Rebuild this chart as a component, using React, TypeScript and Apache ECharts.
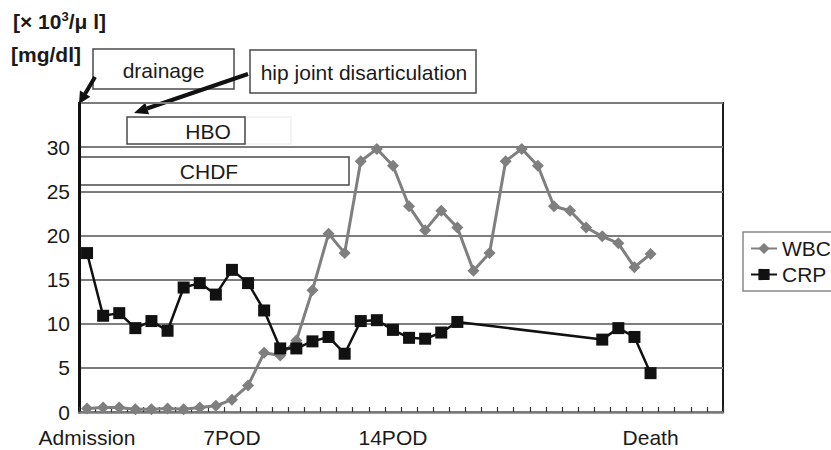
import React, { useEffect, useRef } from "react";
import * as echarts from "echarts";

const categories = [
  "Admission", "", "", "", "", "", "", "", "", "7POD",
  "", "", "", "", "", "", "", "", "", "14POD",
  "", "", "", "", "", "", "", "", "", "",
  "", "", "", "", "", "Death", "", "", "", "",
];

const wbc = [
  0.4, 0.5, 0.5, 0.3, 0.3, 0.4, 0.3, 0.5, 0.7, 1.4,
  3.0, 6.7, 6.4, 8.1, 13.8, 20.2, 18.0, 28.4, 29.8, 27.9,
  23.3, 20.6, 22.8, 20.9, 16.0, 18.0, 28.4, 29.8, 27.9, 23.3,
  22.8, 20.9, 19.9, 19.1, 16.4, 17.9, null, null, null, null,
];

const crp = [
  18.0, 10.9, 11.2, 9.5, 10.3, 9.2, 14.1, 14.6, 13.3, 16.1,
  14.6, 11.5, 7.2, 7.2, 8.0, 8.5, 6.6, 10.3, 10.4, 9.3,
  8.4, 8.3, 9.0, 10.2, null, null, null, null, null, null,
  null, null, 8.2, 9.5, 8.5, 4.4, null, null, null, null,
];

const seriesNames = ["WBC", "CRP"];
const yMax = 35;
const yStep = 5;

const FONT = "'Liberation Sans', Arial, sans-serif";

export default function App() {
  const ref = useRef<HTMLDivElement>(null);

  useEffect(() => {
    if (!ref.current) return;
    const chart = echarts.init(ref.current, undefined, { renderer: "svg" });

    const boxStyle = { fill: "transparent", stroke: "#4a4a4a", lineWidth: 1.5 };
    const txt = (x: number, y: number, s: string) => ({
      type: "text",
      x,
      y,
      style: {
        text: s,
        fontSize: 21,
        fontFamily: FONT,
        fill: "#1a1a1a",
        textAlign: "center",
        textVerticalAlign: "middle",
      },
    });

    chart.setOption({
      animation: false,
      backgroundColor: "#ffffff",
      textStyle: { fontFamily: FONT },
      grid: {
        left: 79,
        right: 108,
        top: 103,
        bottom: 38,
        show: true,
        borderColor: "#1a1a1a",
        borderWidth: 2,
        backgroundColor: "transparent",
      },
      legend: {
        orient: "vertical",
        left: 743,
        top: 232,
        data: seriesNames,
        borderColor: "#888",
        borderWidth: 1.5,
        padding: [5, 12, 5, 7],
        itemWidth: 26,
        itemHeight: 14,
        itemGap: 3,
        textStyle: { fontSize: 21, color: "#1a1a1a", fontFamily: FONT, lineHeight: 23 },
      },
      xAxis: {
        type: "category",
        data: categories,
        boundaryGap: true,
        axisLine: { lineStyle: { color: "#7a7a7a", width: 2.5 } },
        axisTick: {
          show: true,
          inside: true,
          length: 5,
          interval: 0,
          lineStyle: { color: "#333", width: 1.2 },
        },
        axisLabel: {
          interval: 0,
          fontSize: 21,
          color: "#1a1a1a",
          margin: 15,
          fontFamily: FONT,
        },
        splitLine: { show: false },
      },
      yAxis: {
        type: "value",
        min: 0,
        max: yMax,
        interval: yStep,
        axisLine: { show: true, lineStyle: { color: "#111", width: 3 } },
        axisTick: { show: false },
        axisLabel: {
          fontSize: 21,
          color: "#1a1a1a",
          margin: 9,
          fontFamily: FONT,
          formatter: (v: number) => (v === yMax ? "" : String(v)),
        },
        splitLine: { lineStyle: { color: "#7c7c7c", width: 2 } },
      },
      series: [
        {
          name: seriesNames[0],
          type: "line",
          data: wbc,
          symbol: "diamond",
          symbolSize: 12,
          itemStyle: { color: "#7f7f7f" },
          lineStyle: { color: "#7f7f7f", width: 3 },
          z: 3,
        },
        {
          name: seriesNames[1],
          type: "line",
          data: crp,
          connectNulls: true,
          symbol: "rect",
          symbolSize: 12,
          itemStyle: { color: "#111" },
          lineStyle: { color: "#111", width: 2.5 },
          z: 4,
        },
      ],
      graphic: [
        {
          type: "text",
          left: 13,
          top: 10,
          style: {
            rich: {
              a: { fontSize: 21, fontWeight: "bold", fontFamily: FONT, fill: "#1a1a1a" },
              sup: { fontSize: 13, fontWeight: "bold", fontFamily: FONT, fill: "#1a1a1a", verticalAlign: "top", padding: [0, 0, 9, 0] },
            },
            text: "{a|[× 10}{sup|3}{a|/μ l]}",
          },
        },
        {
          type: "text",
          left: 11,
          top: 44,
          style: { text: "[mg/dl]", fontSize: 21, fontWeight: "bold", fontFamily: FONT, fill: "#1a1a1a" },
        },
        { type: "rect", shape: { x: 93, y: 49, width: 141, height: 40 }, style: boxStyle },
        txt(163.5, 70, "drainage"),
        { type: "rect", shape: { x: 250, y: 50, width: 226, height: 43 }, style: boxStyle },
        txt(364, 72, "hip joint disarticulation"),
        { type: "rect", shape: { x: 245, y: 117, width: 46, height: 27 }, style: { fill: "transparent", stroke: "#f0f0f0", lineWidth: 1.5 } },
        { type: "rect", shape: { x: 127, y: 117, width: 118, height: 27 }, style: boxStyle },
        txt(208, 131, "HBO"),
        { type: "rect", shape: { x: 80, y: 157, width: 269, height: 28 }, style: boxStyle },
        txt(209, 171, "CHDF"),
        { type: "line", shape: { x1: 95, y1: 77, x2: 85, y2: 94 }, style: { stroke: "#111", lineWidth: 4 } },
        { type: "polygon", shape: { points: [[79, 104], [90.3, 96.8], [79.9, 90.6]] }, style: { fill: "#111" } },
        { type: "line", shape: { x1: 248, y1: 74, x2: 147, y2: 108.5 }, style: { stroke: "#111", lineWidth: 4 } },
        { type: "polygon", shape: { points: [[134, 113], [149.1, 114.2], [145.3, 102.8]] }, style: { fill: "#111" } },
      ],
    });

    return () => chart.dispose();
  }, []);

  return (
    <div
      ref={ref}
      style={{ position: "fixed", left: 0, top: 0, width: 831, height: 450, background: "#fff" }}
    />
  );
}
